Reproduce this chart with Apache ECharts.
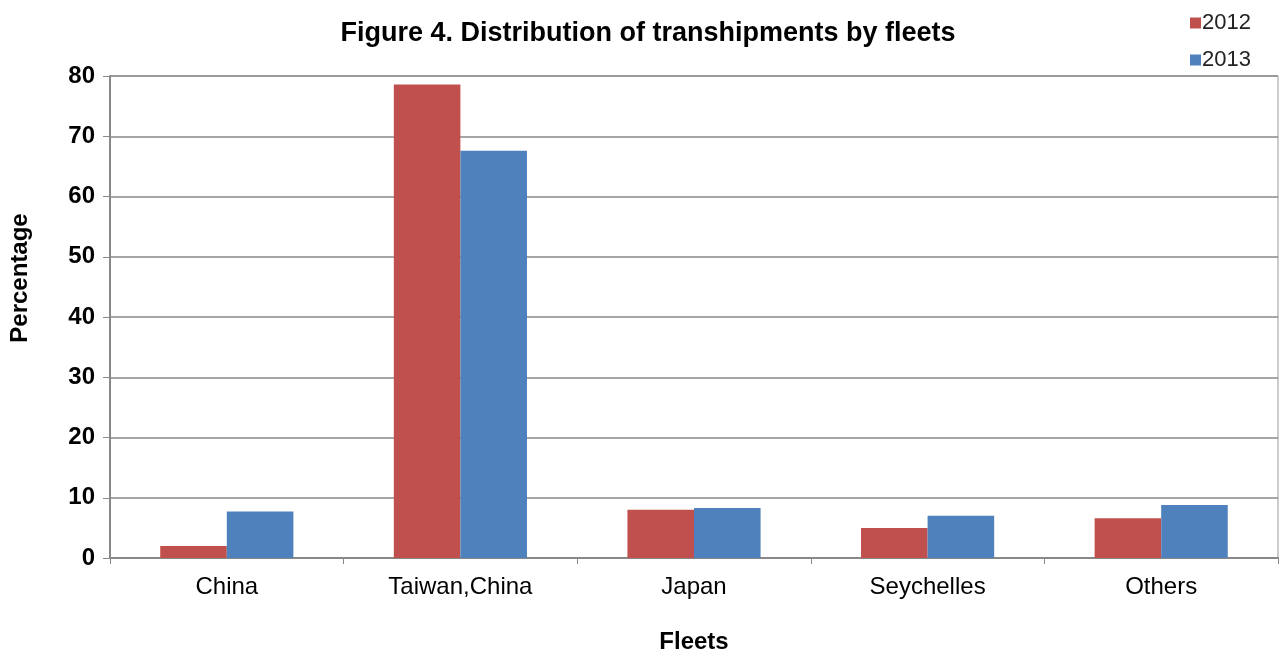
<!DOCTYPE html>
<html>
<head>
<meta charset="utf-8">
<script src="https://cdn.jsdelivr.net/npm/echarts@6/dist/echarts.min.js"></script>
<style>
  html, body { margin: 0; padding: 0; background: #fff; }
  #chart { width: 1281px; height: 652px; }
</style>
</head>
<body>
<div id="chart"></div>
<script>
const fleets = ['China', 'Taiwan,China', 'Japan', 'Seychelles', 'Others']
const values2012 = [2.0, 78.6, 8.0, 5.0, 6.6]
const values2013 = [7.7, 67.6, 8.3, 7.0, 8.8]
const yTicks = [0, 10, 20, 30, 40, 50, 60, 70, 80]

const font = 'Liberation Sans, Arial, sans-serif'
let myChart = echarts.init(document.getElementById('chart'))
let options = {
  animation: false,
  title: {
    text: 'Figure 4. Distribution of transhipments by fleets',
    left: 643,
    top: 15,
    textAlign: 'center',
    textStyle: { fontFamily: font, fontSize: 27, fontWeight: 'bold', color: '#000' }
  },
  legend: {
    orient: 'vertical',
    left: 1185,
    top: 7,
    itemGap: 15,
    itemWidth: 11,
    itemHeight: 11,
    icon: 'rect',
    data: ['2012', '2013'],
    textStyle: { fontFamily: font, fontSize: 22, color: '#222', padding: [0, 0, 0, -4] }
  },
  grid: {
    left: 110,
    right: 3,
    top: 76,
    bottom: 94,
    containLabel: false,
    outerBoundsMode: 'none',
    show: true,
    borderColor: '#999',
    borderWidth: 1
  },
  xAxis: {
    type: 'category',
    data: fleets,
    name: 'Fleets',
    nameLocation: 'middle',
    nameGap: 72,
    nameTextStyle: { fontFamily: font, fontSize: 24, fontWeight: 'bold', color: '#000' },
    axisLine: { lineStyle: { color: '#888', width: 2 } },
    axisTick: { show: true, length: 6, lineStyle: { color: '#888' } },
    axisLabel: { fontFamily: font, fontSize: 24, color: '#000', margin: 17 }
  },
  yAxis: {
    type: 'value',
    min: yTicks[0],
    max: yTicks[yTicks.length - 1],
    interval: 10,
    name: 'Percentage',
    nameLocation: 'middle',
    nameGap: 78,
    // the label sits above the plot's middle in the original
    nameTextStyle: { fontFamily: font, fontSize: 24, fontWeight: 'bold', color: '#000', padding: [0, 0, 0, 78] },
    axisLine: { show: true, lineStyle: { color: '#888', width: 2 } },
    axisTick: { show: true, length: 7, lineStyle: { color: '#888' } },
    axisLabel: { fontFamily: font, fontSize: 24, fontWeight: 'bold', color: '#000', margin: 15 },
    splitLine: { lineStyle: { color: '#888', width: 1.5 } }
  },
  series: [
    {
      name: '2012',
      type: 'bar',
      data: values2012,
      barGap: '0%',
      barCategoryGap: '43%',
      itemStyle: { color: '#C0504D' }
    },
    {
      name: '2013',
      type: 'bar',
      data: values2013,
      barGap: '0%',
      barCategoryGap: '43%',
      itemStyle: { color: '#4F81BD' }
    }
  ]
}
myChart.setOption(options)
</script>
</body>
</html>
